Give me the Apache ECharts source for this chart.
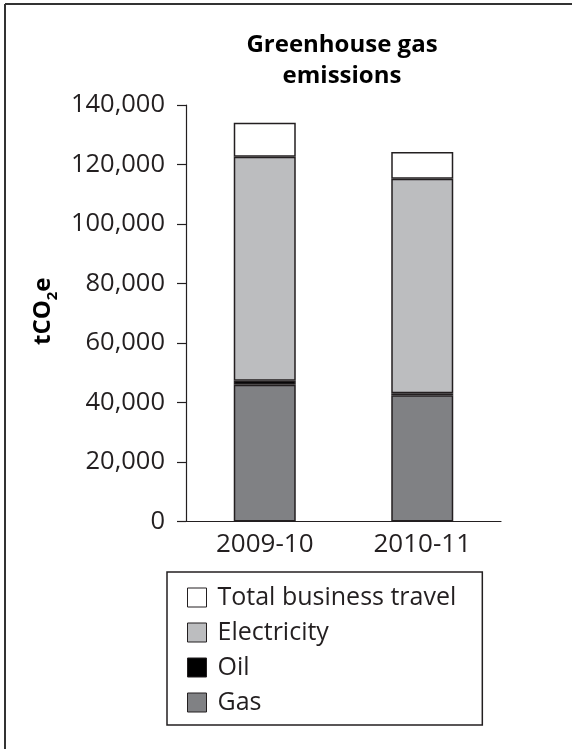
<!DOCTYPE html>
<html>
<head>
<meta charset="utf-8">
<script src="https://cdn.jsdelivr.net/npm/echarts@6/dist/echarts.min.js"></script>
<style>html,body{margin:0;padding:0;background:#fff}#c{width:572px;height:749px}</style>
</head>
<body>
<div id="c"></div>
<script>
var categories = ['2009-10', '2010-11'];
var gas = [46000, 42400];
var oil = [1300, 700];
var electricity = [75300, 72100];
var travel = [11400, 9000];
var yTicks = [0, 20000, 40000, 60000, 80000, 100000, 120000, 140000];
var legendOrder = ['Total business travel', 'Electricity', 'Oil', 'Gas'];

var FONT = '"Open Sans", "Noto Sans", sans-serif';
var INK = '#231f20';
var chart = echarts.init(document.getElementById('c'), null, {renderer: 'canvas'});

function fmt(v) { return String(v).replace(/\B(?=(\d{3})+(?!\d))/g, ','); }

var barStyle = function (color) {
  return {color: color, borderColor: INK, borderWidth: 1.5};
};

chart.setOption({
  animation: false,
  backgroundColor: '#fff',
  textStyle: {fontFamily: FONT, color: INK},
  title: {
    text: 'Greenhouse gas\nemissions',
    left: 337,
    top: 25,
    textAlign: 'center',
    textStyle: {fontFamily: FONT, fontWeight: 'bold', fontSize: 24, lineHeight: 31, color: '#000'}
  },
  graphic: [
    {type: 'line', shape: {x1: 5, y1: 4, x2: 572, y2: 4}, style: {stroke: '#333', lineWidth: 2}},
    {type: 'line', shape: {x1: 5, y1: 4, x2: 5, y2: 749}, style: {stroke: '#333', lineWidth: 2}}
  ],
  legend: {
    data: legendOrder,
    orient: 'vertical',
    left: 167,
    top: 572,
    padding: [13, 26, 10, 20],
    borderColor: INK,
    borderWidth: 1.5,
    itemWidth: 19,
    itemHeight: 19,
    itemGap: 10,
    icon: 'rect',
    textStyle: {fontFamily: FONT, fontSize: 25, color: INK, padding: [0, 0, 0, 6]},
    itemStyle: {borderColor: INK, borderWidth: 1}
  },
  grid: {left: 186, right: 71, top: 105, bottom: 227.5, containLabel: false},
  xAxis: {
    type: 'category',
    data: categories,
    axisLine: {lineStyle: {color: INK, width: 1.2}},
    axisTick: {length: 7, lineStyle: {color: INK, width: 1.2}},
    axisLabel: {fontFamily: FONT, fontSize: 26, color: INK, margin: 10}
  },
  yAxis: {
    type: 'value',
    min: 0,
    max: 140000,
    interval: 20000,
    name: '{a|tCO}{s|2}{a|e}',
    nameLocation: 'middle',
    nameRotate: 90,
    nameGap: 126,
    nameTextStyle: {
      padding: [0, 0, 0, 4],
      rich: {
        a: {fontFamily: FONT, fontWeight: 'bold', fontSize: 24, color: '#000', lineHeight: 34, verticalAlign: 'middle'},
        s: {fontFamily: FONT, fontWeight: 'bold', fontSize: 15, color: '#000', lineHeight: 34, verticalAlign: 'bottom'}
      }
    },
    axisLine: {show: true, lineStyle: {color: INK, width: 1.2}},
    axisTick: {show: true, length: 9, lineStyle: {color: INK, width: 1.2}},
    splitLine: {show: false},
    axisLabel: {fontFamily: FONT, fontSize: 25.5, color: INK, margin: 21, formatter: function (v) { return fmt(v); }}
  },
  series: [
    {name: 'Gas', type: 'bar', stack: 't', barWidth: 62, data: gas, itemStyle: barStyle('#808184')},
    {name: 'Oil', type: 'bar', stack: 't', data: oil, itemStyle: barStyle('#000000')},
    {name: 'Electricity', type: 'bar', stack: 't', data: electricity, itemStyle: barStyle('#bcbdbf')},
    {name: 'Total business travel', type: 'bar', stack: 't', data: travel, itemStyle: barStyle('#ffffff')}
  ]
});
</script>
</body>
</html>
